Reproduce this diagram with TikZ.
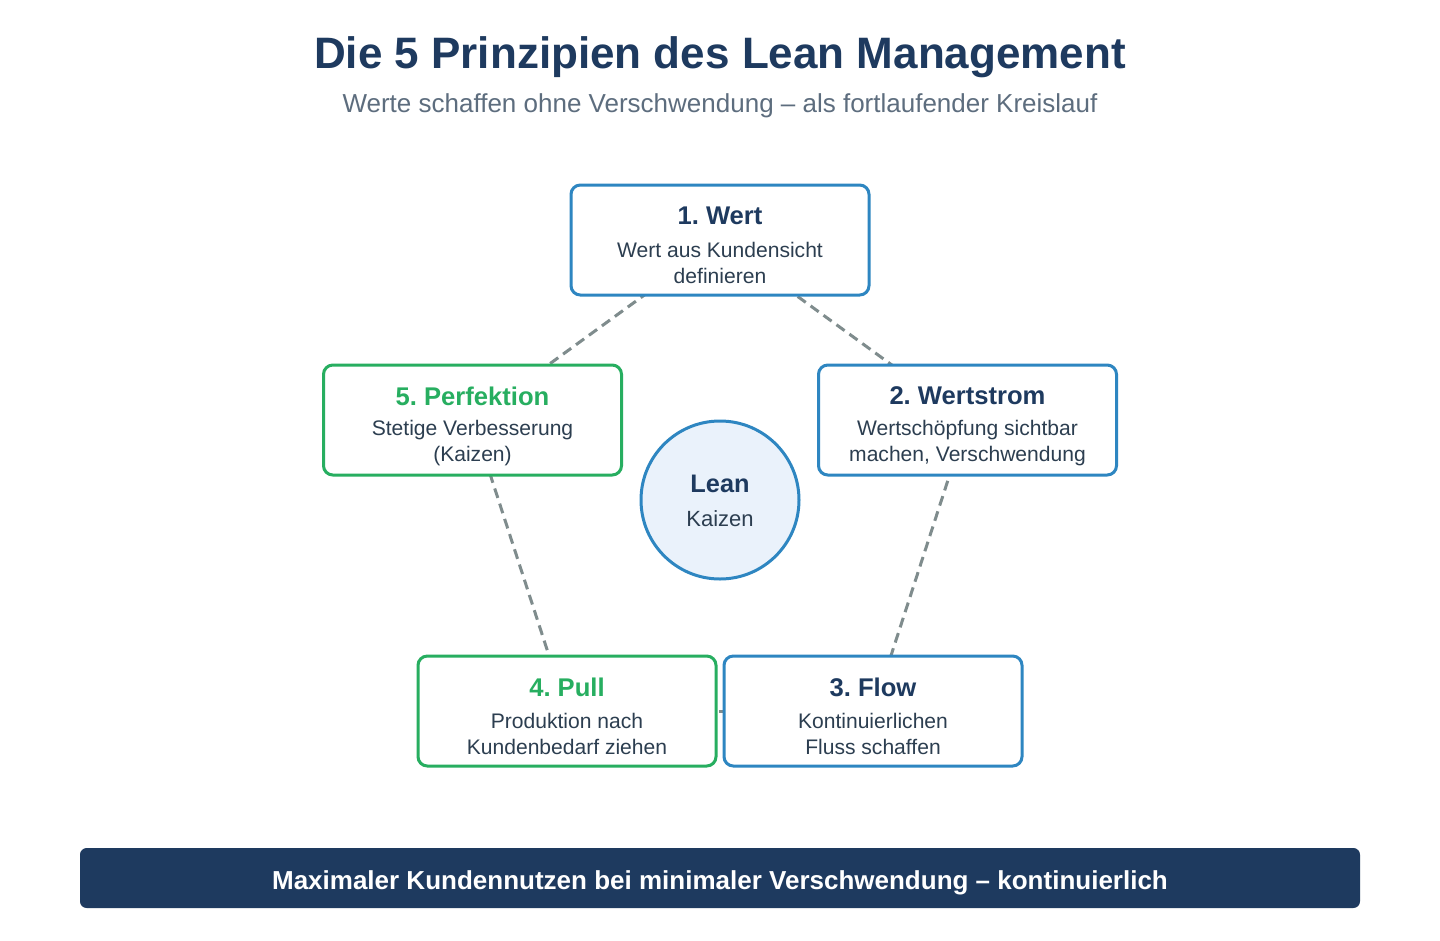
\documentclass[tikz,border=0pt]{standalone}
\usepackage{fontspec}
\setmainfont{Liberation Sans}
\frenchspacing
\definecolor{navy}{HTML}{1E3A5F}
\definecolor{bblue}{HTML}{2E86C1}
\definecolor{bgreen}{HTML}{27AE60}
\definecolor{dgray}{HTML}{7F8C8D}
\definecolor{subgray}{HTML}{5D6D7E}
\definecolor{txt}{HTML}{2C3E50}
\definecolor{circfill}{HTML}{EAF2FB}
\begin{document}
\begin{tikzpicture}[x=0.75pt,y=-0.75pt,
  box/.style={draw, line width=2.25pt, rounded corners=7pt, fill=white,
    minimum width=223.5pt, minimum height=82.5pt, inner sep=0pt},
  bluebox/.style={box, draw=bblue},
  greenbox/.style={box, draw=bgreen},
  btitle/.style={font=\bfseries\fontsize{19.2}{23}\selectfont, inner sep=0pt},
  bdesc/.style={font=\fontsize{15.8}{19.5}\selectfont, text=txt, align=center, inner sep=0pt},
  conn/.style={draw=dgray, line width=2.25pt, dash pattern=on 7.5pt off 4.5pt}
]
\useasboundingbox (0,0) rectangle (1440,940);
\fill[white] (0,0) rectangle (1440,940);

\node[font=\bfseries\fontsize{33}{38}\selectfont, text=navy] (title) at (720,57) {Die 5 Prinzipien des Lean Management};
\node[font=\fontsize{19.5}{22}\selectfont, text=subgray] (sub) at (720,106) {Werte schaffen ohne Verschwendung – als fortlaufender Kreislauf};

% anchor coordinates for pentagon
\coordinate (c1) at (720,240);
\coordinate (c2) at (967.5,420);
\coordinate (c3) at (873,711);
\coordinate (c4) at (567,711);
\coordinate (c5) at (472.5,420);

\draw[conn] (c1) -- (c2);
\draw[conn] (c2) -- (c3);
\draw[conn] (c3) -- (c4);
\draw[conn] (c4) -- (c5);
\draw[conn] (c5) -- (c1);

\node[bluebox] (b1) at (c1) {};
\node[bluebox] (b2) at (c2) {};
\node[bluebox] (b3) at (c3) {};
\node[greenbox] (b4) at (c4) {};
\node[greenbox] (b5) at (c5) {};

\node[btitle, text=navy] (t1) at ([yshift=18pt]b1.center) {1. Wert};
\node[bdesc] (d1) at ([yshift=-17.5pt]b1.center) {Wert aus Kundensicht\\definieren};
\node[btitle, text=navy] (t2) at ([yshift=18pt]b2.center) {2. Wertstrom};
\node[bdesc] (d2) at ([yshift=-17.5pt]b2.center) {Wertschöpfung sichtbar\\machen, Verschwendung};
\node[btitle, text=navy] (t3) at ([yshift=18pt]b3.center) {3. Flow};
\node[bdesc] (d3) at ([yshift=-17.5pt]b3.center) {Kontinuierlichen\\Fluss schaffen};
\node[btitle, text=bgreen] (t4) at ([yshift=18pt]b4.center) {4. Pull};
\node[bdesc] (d4) at ([yshift=-17.5pt]b4.center) {Produktion nach\\Kundenbedarf ziehen};
\node[btitle, text=bgreen] (t5) at ([yshift=18pt]b5.center) {5. Perfektion};
\node[bdesc] (d5) at ([yshift=-17.5pt]b5.center) {Stetige Verbesserung\\(Kaizen)};

\node[circle, draw=bblue, fill=circfill, line width=2.25pt, minimum size=118.5pt, inner sep=0pt] (lean) at (720,500) {};
\node[btitle, text=navy, font=\bfseries\fontsize{19}{23}\selectfont] (lt) at ([yshift=12pt]lean.center) {Lean};
\node[font=\fontsize{16.5}{19}\selectfont, text=txt, inner sep=0pt] (lk) at ([yshift=-14pt]lean.center) {Kaizen};

\node[fill=navy, rounded corners=5pt, minimum width=960pt, minimum height=45pt, inner sep=0pt] (bar) at (720,878) {};
\node[text=white, font=\bfseries\fontsize{19.5}{22}\selectfont, inner sep=0pt] (bartext) at ([yshift=-3.5pt]bar.center) {Maximaler Kundennutzen bei minimaler Verschwendung – kontinuierlich};
\end{tikzpicture}
\end{document}
